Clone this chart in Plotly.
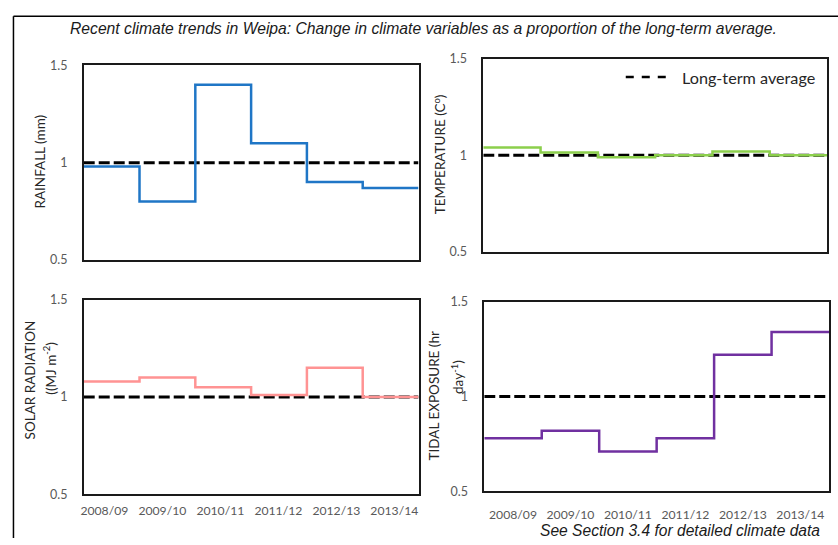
import plotly.graph_objects as go

# Seasons (financial years) shown along the x axes
seasons = ["2008/09", "2009/10", "2010/11", "2011/12", "2012/13", "2013/14"]

# Each variable expressed as a proportion of its long-term average
rainfall = [0.98, 0.80, 1.40, 1.10, 0.90, 0.87]
temperature = [1.04, 1.015, 0.99, 1.00, 1.02, 1.00]
solar_radiation = [1.08, 1.10, 1.05, 1.01, 1.15, 1.00]
tidal_exposure = [0.78, 0.82, 0.71, 0.78, 1.22, 1.34]
long_term_average = 1.0

y_ticks = [0.5, 1.0, 1.5]
y_tick_text = ["0.5", "1", "1.5"]

W, H = 838, 545
FONT = "Lato, Carlito, Calibri, sans-serif"
TICK_GREY = "#595959"
TEXT_DARK = "#262626"


def px(x):
    return x / W


def py(y):
    return 1 - y / H


# step edges: one unit per season
edges = list(range(len(seasons) + 1))

panels = [
    # (values, colour, x-axis, y-axis)
    (rainfall, "#1F76C6", "x", "y"),
    (temperature, "#8CCF4C", "x2", "y2"),
    (solar_radiation, "#FF9393", "x3", "y3"),
    (tidal_exposure, "#7030A0", "x4", "y4"),
]

fig = go.Figure()

for vals, colour, xa, ya in panels:
    # long-term average reference line
    fig.add_trace(go.Scatter(
        x=[edges[0], edges[-1]], y=[long_term_average, long_term_average],
        mode="lines", line=dict(color="black", width=3, dash="11px,4px"),
        xaxis=xa, yaxis=ya, showlegend=False, hoverinfo="skip"))
    # yearly proportion drawn as a step line
    fig.add_trace(go.Scatter(
        x=edges, y=vals + [vals[-1]], mode="lines",
        line=dict(color=colour, width=2.5, shape="hv"),
        xaxis=xa, yaxis=ya, showlegend=False))

axis_common = dict(showgrid=False, zeroline=False, showline=True, mirror=True,
                   linecolor="#1a1a1a", linewidth=1.5, ticks="")

domains = {
    "1": ((81, 417), (59, 259)),
    "2": ((482, 827), (52, 251)),
    "3": ((81, 417), (300, 500)),
    "4": ((483, 829), (302, 497)),
}

layout = dict(
    width=W, height=H, margin=dict(l=0, r=0, t=0, b=0),
    paper_bgcolor="white", plot_bgcolor="white", showlegend=False,
    font=dict(family=FONT, size=11, color=TICK_GREY),
)

for k, ((x0, x1), (y0, y1)) in domains.items():
    sx = "" if k == "1" else k
    layout["xaxis" + sx] = dict(
        axis_common, domain=[px(x0), px(x1)], range=[edges[0], edges[-1]],
        anchor="y" + sx, showticklabels=False)
    layout["yaxis" + sx] = dict(
        axis_common, domain=[py(y1), py(y0)], range=[0.5, 1.5],
        anchor="x" + sx, tickvals=y_ticks, ticktext=y_tick_text,
        ticklabelstandoff=12, tickfont=dict(family=FONT, size=12.5, color=TICK_GREY))

# season labels under the bottom-left panel
layout["xaxis5"] = dict(
    overlaying="x3", anchor="y3", range=[-0.356, 5.417],
    tickvals=list(range(len(seasons))), ticktext=seasons,
    showgrid=False, zeroline=False, showline=False, ticks="",
    ticklabelstandoff=8, tickfont=dict(family=FONT, size=12.2, color=TICK_GREY))
# season labels under the bottom-right panel
layout["xaxis4"].update(
    showticklabels=True, tickvals=[e + 0.5 for e in edges[:-1]], ticktext=seasons,
    ticklabelstandoff=11, tickfont=dict(family=FONT, size=12.2, color=TICK_GREY))

fig.update_layout(**layout)
# invisible trace so the label axis is rendered
fig.add_trace(go.Scatter(x=[0], y=[long_term_average], xaxis="x5", yaxis="y3",
                         mode="markers", marker=dict(opacity=0), showlegend=False,
                         hoverinfo="skip"))

annotations = [
    dict(x=px(422), y=py(21), text="<i>Recent climate trends in Weipa: Change in climate variables as a proportion of the long-term average.</i>",
         font=dict(family="Liberation Sans Narrow, Arial Narrow, Liberation Sans, Arial", size=15.7, color="#1a1a1a")),
    dict(x=px(37), y=py(158), text="RAINFALL (mm)", textangle=-90,
         font=dict(family=FONT, size=13.5, color=TEXT_DARK)),
    dict(x=px(438), y=py(150), text="TEMPERATURE (C<sup>o</sup>)", textangle=-90,
         font=dict(family=FONT, size=13.5, color=TEXT_DARK)),
    dict(x=px(28), y=py(382), text="SOLAR RADIATION", textangle=-90,
         font=dict(family=FONT, size=13.5, color=TEXT_DARK)),
    dict(x=px(47), y=py(370), text="((MJ m<sup>-2</sup>)", textangle=-90,
         font=dict(family=FONT, size=13.5, color=TEXT_DARK)),
    dict(x=px(433), y=py(399), text="TIDAL EXPOSURE (hr", textangle=-90,
         font=dict(family=FONT, size=13.5, color=TEXT_DARK)),
    dict(x=px(456), y=py(379), text="day<sup>-1</sup>)", textangle=-90,
         font=dict(family=FONT, size=13.5, color=TEXT_DARK)),
    dict(x=px(679), y=py(71), text="Long-term average", xanchor="left",
         font=dict(family=FONT, size=16.2, color=TEXT_DARK)),
    dict(x=px(679), y=py(537), text="<i>See Section 3.4 for detailed climate data</i>",
         font=dict(family="Liberation Sans, Arial", size=15.6, color="#1a1a1a")),
]
for a in annotations:
    a.setdefault("xanchor", "center")
    a.update(xref="paper", yref="paper", showarrow=False, yanchor="middle")
fig.update_layout(annotations=annotations)

# legend key sample and the outer frame of the figure
fig.add_shape(type="line", xref="paper", yref="paper",
              x0=px(625), x1=px(667), y0=py(71), y1=py(71),
              line=dict(color="black", width=2.5, dash="8px,8px"))
fig.add_shape(type="line", xref="paper", yref="paper",
              x0=px(10.5), x1=px(10.5), y0=py(8.5), y1=0,
              line=dict(color="black", width=1.5))
fig.add_shape(type="line", xref="paper", yref="paper",
              x0=px(10.5), x1=1, y0=py(8.5), y1=py(8.5),
              line=dict(color="black", width=1.5))

fig.write_html("out.html")
